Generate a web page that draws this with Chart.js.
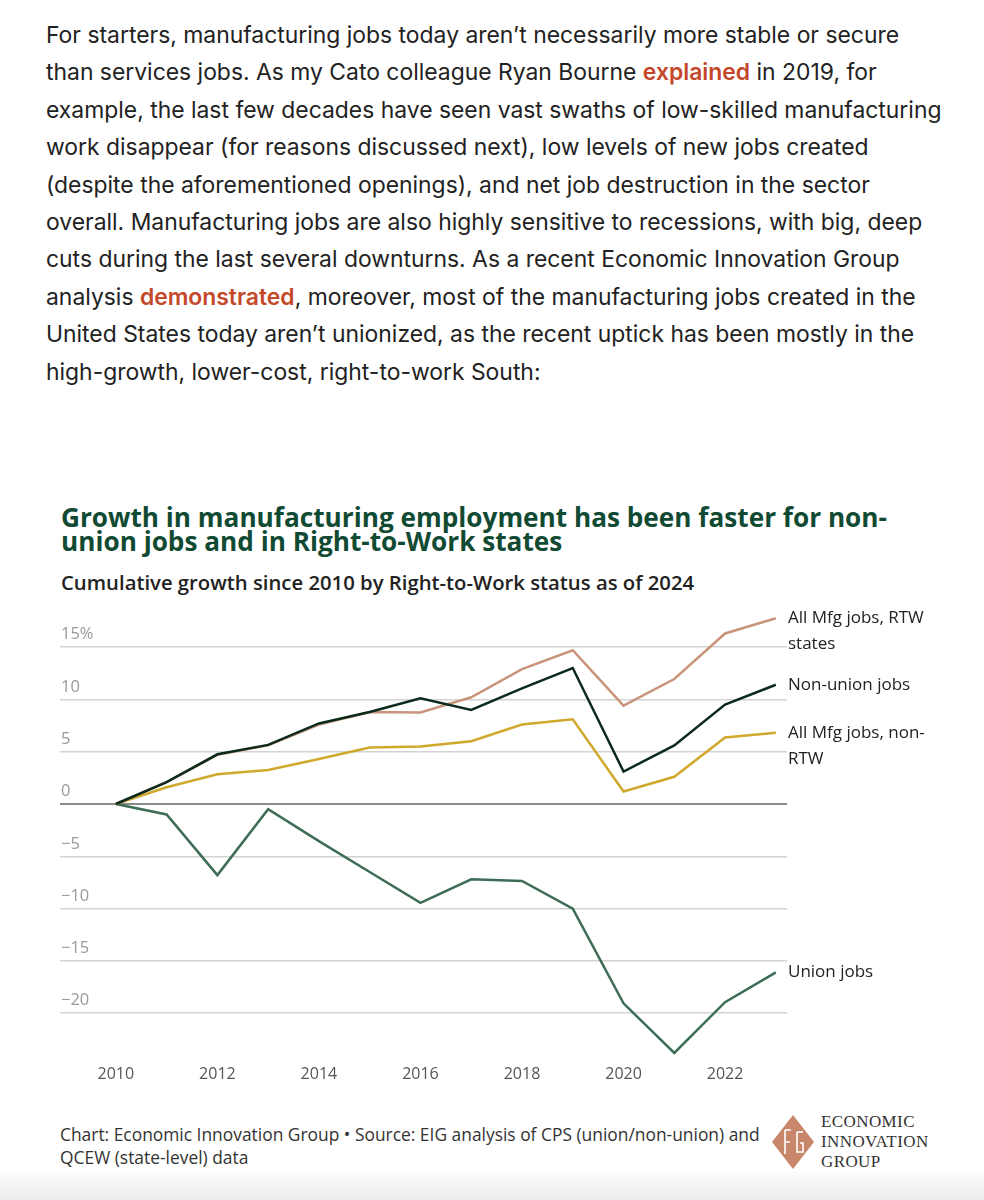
<!DOCTYPE html>
<html>
<head>
<meta charset="utf-8">
<script src="https://cdn.jsdelivr.net/npm/chart.js@4"></script>
<style>
  html, body { margin: 0; padding: 0; background: #fff; }
  body { width: 984px; height: 1200px; position: relative; overflow: hidden; }
  .para {
    position: absolute; left: 46px; top: 17px;
    font-family: Inter, "Noto Sans", sans-serif; font-size: 22.9px; line-height: 37.4px;
    color: #222; white-space: nowrap;
  }
  .para a { color: #c4482a; font-weight: 600; text-decoration: none; }
  .title {
    position: absolute; left: 61px; top: 505px;
    font-family: "Open Sans", sans-serif; font-weight: 700; font-size: 26.2px; line-height: 24px;
    color: #114a33; white-space: nowrap;
  }
  .sub {
    position: absolute; left: 61px; top: 570px;
    font-family: "Open Sans", sans-serif; font-weight: 600; font-size: 20.3px; line-height: 24px;
    color: #222; white-space: nowrap;
  }
  #c { position: absolute; left: 0; top: 596px; }
  .foot {
    position: absolute; left: 60px; top: 1123px;
    font-family: "Open Sans", sans-serif; font-size: 17.4px; line-height: 23px;
    color: #333; white-space: nowrap;
  }
  .logo { position: absolute; left: 770px; top: 1113px; }
  .logotext {
    position: absolute; left: 821px; top: 1112px;
    font-family: "Liberation Serif", "DejaVu Serif", serif; font-size: 17px; line-height: 20px;
    color: #333; letter-spacing: 0.4px;
  }
  .fade {
    position: absolute; left: 0; top: 1168px; width: 984px; height: 32px;
    background: linear-gradient(#fff, #ececec);
  }
</style>
</head>
<body>
<div class="para">
For starters, manufacturing jobs today aren’t necessarily more stable or secure<br>
than services jobs. As my Cato colleague Ryan Bourne <a>explained</a> in 2019, for<br>
example, the last few decades have seen vast swaths of low-skilled manufacturing<br>
work disappear (for reasons discussed next), low levels of new jobs created<br>
(despite the aforementioned openings), and net job destruction in the sector<br>
overall. Manufacturing jobs are also highly sensitive to recessions, with big, deep<br>
cuts during the last several downturns. As a recent Economic Innovation Group<br>
analysis <a>demonstrated</a>, moreover, most of the manufacturing jobs created in the<br>
United States today aren’t unionized, as the recent uptick has been mostly in the<br>
high-growth, lower-cost, right-to-work South:
</div>

<div class="title">Growth in manufacturing employment has been faster for non-<br>union jobs and in Right-to-Work states</div>
<div class="sub">Cumulative growth since 2010 by Right-to-Work status as of 2024</div>

<canvas id="c" width="984" height="494"></canvas>

<div class="foot">Chart: Economic Innovation Group • Source: EIG analysis of CPS (union/non-union) and<br>QCEW (state-level) data</div>
<div class="fade"></div>
<svg class="logo" width="46" height="58" viewBox="0 0 46 58">
  <polygon points="23,2 44,29 23,56 2,29" fill="#c8866a"/>
  <path d="M15,17 L15,41 M15,17 L21,17 M15,29 L20,29 M27,19 L27,39 L33,39 L33,30 L30,30 M33,19 L27,19" stroke="#fff" stroke-width="1.6" fill="none"/>
</svg>
<div class="logotext">ECONOMIC<br>INNOVATION<br>GROUP</div>

<script>
"use strict";
const YEARS     = [2010, 2011, 2012, 2013, 2014, 2015, 2016, 2017, 2018, 2019, 2020, 2021, 2022, 2023];
const NON_UNION = [0, 2.1, 4.75, 5.65, 7.7, 8.8, 10.1, 9.0, 11.05, 13.0, 3.1, 5.6, 9.5, 11.4];
const RTW       = [0, 2.1, 4.7, 5.6, 7.6, 8.8, 8.75, 10.2, 12.9, 14.7, 9.4, 11.95, 16.3, 17.75];
const NON_RTW   = [0, 1.6, 2.85, 3.25, 4.3, 5.4, 5.5, 6.0, 7.6, 8.1, 1.2, 2.6, 6.35, 6.8];
const UNION     = [0, -1.0, -6.8, -0.5, -3.55, -6.5, -9.45, -7.2, -7.35, -10.0, -19.05, -23.8, -18.95, -16.1];

const X_TICKS = [2010, 2012, 2014, 2016, 2018, 2020, 2022];
const Y_TICKS = [-20, -15, -10, -5, 0, 5, 10, 15];

const COLORS = {
  nonUnion: "#0c2b1d",
  rtw:      "#c9957a",
  nonRtw:   "#cfa82c",
  union:    "#3d6d55",
};

const pts = arr => YEARS.map((y, i) => ({ x: y, y: arr[i] }));

const SERIES = [
  { key: "nonUnion", data: NON_UNION, label: ["Non-union jobs"] },
  { key: "rtw",      data: RTW,       label: ["All Mfg jobs, RTW", "states"] },
  { key: "nonRtw",   data: NON_RTW,   label: ["All Mfg jobs, non-", "RTW"] },
  { key: "union",    data: UNION,     label: ["Union jobs"] },
];

// end-of-line labels, first line centred on the last point
const endLabels = {
  id: "endLabels",
  afterDatasetsDraw(chart) {
    const { ctx, chartArea } = chart;
    ctx.save();
    ctx.font = "17px 'Open Sans'";
    ctx.fillStyle = "#222";
    ctx.textAlign = "left";
    ctx.textBaseline = "middle";
    chart.data.datasets.forEach((ds, i) => {
      const meta = chart.getDatasetMeta(i);
      const last = meta.data[meta.data.length - 1];
      ds.endLabel.forEach((line, j) => ctx.fillText(line, chartArea.right + 1, last.y + j * 26));
    });
    ctx.restore();
  },
};

new Chart(document.getElementById("c"), {
  type: "line",
  data: {
    datasets: SERIES.map(s => ({
      label: s.label.join(" "),
      endLabel: s.label,
      data: pts(s.data),
      borderColor: COLORS[s.key],
      borderWidth: 2.5,
      pointRadius: 0,
      tension: 0,
    })),
  },
  options: {
    responsive: false,
    animation: false,
    layout: { padding: { left: 60, right: 197, top: 19.7, bottom: 0 } },
    plugins: { legend: { display: false }, tooltip: { enabled: false } },
    scales: {
      x: {
        type: "linear",
        min: 2008.9,
        max: 2023.22,
        afterBuildTicks: s => { s.ticks = X_TICKS.map(v => ({ value: v })); },
        afterFit: s => { s.height = 29.7; },
        grid: { display: false, drawTicks: false },
        border: { display: false },
        ticks: {
          color: "#555",
          font: { family: "'Open Sans'", size: 16 },
          padding: 5,
          maxRotation: 0,
          callback: v => String(v),
        },
      },
      y: {
        min: -24.5,
        max: 18,
        afterBuildTicks: s => { s.ticks = Y_TICKS.map(v => ({ value: v })); },
        afterFit: s => { s.width = 0; },
        border: { display: false },
        grid: {
          drawTicks: false,
          color: c => c.tick && c.tick.value === 0 ? "#8c8c8c" : "#d3d3d3",
          lineWidth: c => c.tick && c.tick.value === 0 ? 2 : 1.5,
        },
        ticks: {
          mirror: true,
          padding: 1,
          labelOffset: -12.5,
          color: "#999",
          font: { family: "'Open Sans'", size: 16.5 },
          callback: v => v === 15 ? "15%" : (v < 0 ? "\u2212" + Math.abs(v) : String(v)),
        },
      },
    },
  },
  plugins: [endLabels],
});
</script>
</body>
</html>
